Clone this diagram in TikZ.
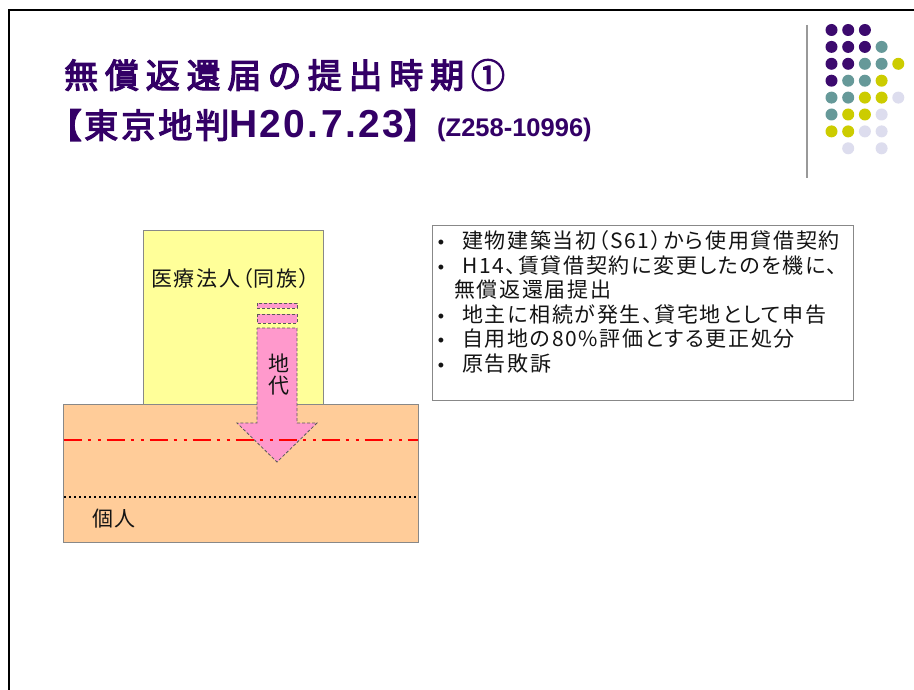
\documentclass[tikz,border=0pt]{standalone}
\usepackage{fontspec}
\newfontfamily\jpTa[RawFeature=+palt,LetterSpace=20,FakeBold=3.5]{Noto Sans CJK JP}
\newfontfamily\jpTb[RawFeature=+palt,LetterSpace=9,FakeBold=3.5]{Noto Sans CJK JP}
\newfontfamily\laT[LetterSpace=6]{Liberation Sans}
\newfontfamily\jpR[RawFeature=+palt,LetterSpace=8]{Noto Sans CJK JP}
\newfontfamily\laR{Liberation Sans}
\definecolor{titlec}{RGB}{51,0,102}
\definecolor{dotP}{RGB}{60,10,110}
\definecolor{dotT}{RGB}{102,153,153}
\definecolor{dotY}{RGB}{204,204,0}
\definecolor{dotL}{RGB}{221,221,238}
\definecolor{yellowc}{RGB}{255,255,153}
\definecolor{orangec}{RGB}{255,204,153}
\definecolor{pinkc}{RGB}{255,153,204}
\definecolor{boxline}{RGB}{136,136,136}
\definecolor{textc}{RGB}{20,20,20}
\newcommand{\TJa}[1]{{\jpTa\fontsize{34}{38}\selectfont #1}}
\newcommand{\TJb}[1]{{\jpTb\fontsize{34}{38}\selectfont #1}}
\newcommand{\TL}[1]{{\laT\bfseries\fontsize{39}{42}\selectfont #1}}
\tikzset{
  box/.style={draw=boxline, line width=1pt, inner sep=0pt, anchor=north west},
  jtext/.style={inner sep=0pt, anchor=base west, text=textc, font=\jpR\fontsize{21}{25}\selectfont},
  bul/.style={inner sep=0pt, anchor=base, text=textc, font=\laR\fontsize{18}{22}\selectfont},
  ttl/.style={inner sep=0pt, anchor=base west, text=titlec},
  dot/.style={circle, inner sep=0pt, minimum size=12pt},
  dashbox/.style={fill=pinkc, draw=black!65, line width=0.8pt, dash pattern=on 3pt off 2pt}
}
\begin{document}
\begin{tikzpicture}[x=1pt,y=-1pt]
\useasboundingbox (0,0) rectangle (914,690);
\fill[white] (0,0) rectangle (914,690);
% slide frame
\draw[line width=2pt] (9,720) -- (9,10) -- (950,10);
% title
\node[ttl] (t1) at (64,88) {\TJa{無償返還届の提出時期①}};
\node[ttl] (t2) at (64,138) {\TJb{【東京地判}\TL{H20.7.23}\TJb{】}};
\node[ttl, font=\laR\bfseries\fontsize{25.5}{28}\selectfont] (t3) at (437,137) {(Z258-10996)};
% decoration
\draw[gray!80, line width=1.2pt] (807,25) -- (807,178);
\foreach \c/\r/\col in {0/0/dotP,1/0/dotP,2/0/dotP,
  0/1/dotP,1/1/dotP,2/1/dotP,3/1/dotT,
  0/2/dotP,1/2/dotP,2/2/dotT,3/2/dotT,4/2/dotY,
  0/3/dotP,1/3/dotT,2/3/dotT,3/3/dotY,
  0/4/dotT,1/4/dotT,2/4/dotY,3/4/dotY,4/4/dotL,
  0/5/dotT,1/5/dotY,2/5/dotY,3/5/dotL,
  0/6/dotY,1/6/dotY,2/6/dotL,3/6/dotL,
  1/7/dotL,3/7/dotL}
  \node[dot, fill=\col] (d\c\r) at ({831.5+16.7*\c},{30+16.9*\r}) {};
% diagram
\node[box, fill=yellowc, minimum width=180pt, minimum height=174pt] (corp) at (143,230) {};
\node[box, fill=orangec, minimum width=355pt, minimum height=138pt] (land) at (63,404) {};
\node[jtext, anchor=base] (corpl) at (230.5,287) {医療法人（同族）};
% arrow
\draw[dashbox] (257,303) rectangle (297,308);
\draw[dashbox] (257,314) rectangle (297,323);
\draw[dashbox] (257,328) -- (297,328) -- (297,423) -- (317,423) -- (277,462) -- (237,423) -- (257,423) -- cycle;
\node[jtext, anchor=base] (rent1) at (279,371) {地};
\node[jtext, anchor=base] (rent2) at (279,393) {代};
% lines
\draw[red, line width=2pt, dash pattern=on 18pt off 6pt on 3.5pt off 6.5pt on 3.5pt off 5.5pt] (63.5,440) -- (418,440);
\draw[black, line width=2pt, dash pattern=on 2pt off 3pt] (64,496.5) -- (417,496.5);
\node[jtext] (indiv) at (92,526) {個人};
% bullet box
\node[box, fill=white, minimum width=421pt, minimum height=175pt] (facts) at (432,225) {};
\foreach \i/\y in {1/248.5,2/273.1,4/322.3,5/346.9,6/371.5}
  \node[bul] (b\i) at (441,\y) {•};
\node[jtext] (l1) at (462,248.5) {建物建築当初（S61）から使用貸借契約};
\node[jtext] (l2) at (462,273.1) {H14、賃貸借契約に変更したのを機に、};
\node[jtext] (l3) at (454,297.7) {無償返還届提出};
\node[jtext] (l4) at (462,322.3) {地主に相続が発生、貸宅地として申告};
\node[jtext] (l5) at (462,346.9) {自用地の80\%評価とする更正処分};
\node[jtext] (l6) at (462,371.5) {原告敗訴};
\end{tikzpicture}
\end{document}
